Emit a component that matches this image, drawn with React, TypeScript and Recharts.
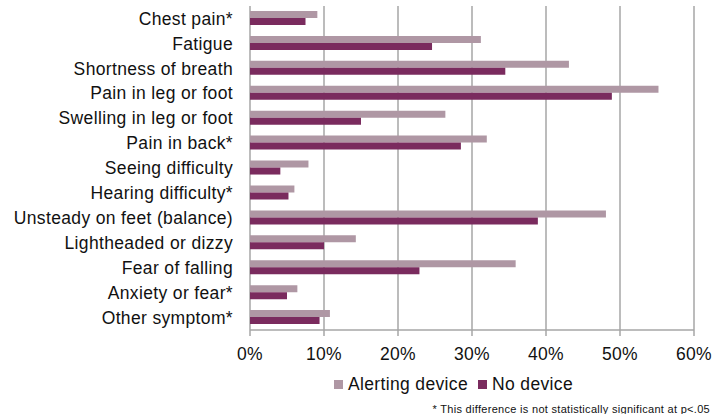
import { Bar, BarChart, CartesianGrid, Legend, XAxis, YAxis } from 'recharts';

const symptoms = [
  'Chest pain*',
  'Fatigue',
  'Shortness of breath',
  'Pain in leg or foot',
  'Swelling in leg or foot',
  'Pain in back*',
  'Seeing difficulty',
  'Hearing difficulty*',
  'Unsteady on feet (balance)',
  'Lightheaded or dizzy',
  'Fear of falling',
  'Anxiety or fear*',
  'Other symptom*',
];
const alertingDevice = [9.1, 31.2, 43.1, 55.2, 26.4, 32.0, 7.9, 6.0, 48.1, 14.3, 35.9, 6.4, 10.8];
const noDevice = [7.5, 24.6, 34.5, 48.9, 15.0, 28.5, 4.1, 5.2, 38.9, 10.0, 22.9, 5.0, 9.4];
const percentTicks = [0, 10, 20, 30, 40, 50, 60];
const seriesNames = ['Alerting device', 'No device'];
const seriesColors = ['#AF97A4', '#7A2B5E'];

const data = symptoms.map((symptom, i) => ({ symptom, alerting: alertingDevice[i], none: noDevice[i] }));
const boundaryTicks = [...symptoms.map((_, i) => i), symptoms.length];

const fontFamily = '"Liberation Sans", Arial, sans-serif';
const textColor = '#111';
const gridColor = '#A6A6A6';
const labelFont = { fontSize: 17.5, fill: textColor, letterSpacing: 0.35 };

const LegendContent = () => (
  <div style={{ display: 'flex', alignItems: 'center', height: 24, fontFamily, fontSize: 17.5, letterSpacing: 0.35, color: textColor }}>
    {seriesNames.map((name, i) => (
      <span key={name} style={{ display: 'flex', alignItems: 'center', marginRight: 10 }}>
        <span style={{ width: 9, height: 9, background: seriesColors[i], marginRight: 5, display: 'inline-block' }} />
        {name}
      </span>
    ))}
  </div>
);

export default function App() {
  return (
    <div style={{ position: 'absolute', left: 0, top: 0, width: 716, height: 414, background: '#fff' }}>
      <BarChart
        width={716}
        height={414}
        data={data}
        layout="vertical"
        margin={{ top: 6, right: 22, bottom: 18, left: 0 }}
        barGap={0}
        style={{ fontFamily }}
      >
        <CartesianGrid horizontal={false} stroke={gridColor} strokeWidth={1.5} />
        <YAxis
          yAxisId="bounds"
          type="number"
          domain={[0, symptoms.length]}
          ticks={boundaryTicks}
          width={0}
          tick={false}
          tickSize={6}
          axisLine={{ stroke: gridColor, strokeWidth: 1.5 }}
          tickLine={{ stroke: gridColor, strokeWidth: 1.5 }}
        />
        <YAxis
          yAxisId="cat"
          type="category"
          dataKey="symptom"
          width={250}
          axisLine={false}
          tickLine={false}
          tickSize={0}
          tickMargin={17}
          interval={0}
          tick={labelFont}
        />
        <XAxis
          type="number"
          domain={[0, 60]}
          ticks={percentTicks}
          tickFormatter={(v: number) => `${v}%`}
          height={42}
          tickSize={6}
          tickMargin={12}
          axisLine={{ stroke: gridColor, strokeWidth: 1.5 }}
          tickLine={{ stroke: gridColor, strokeWidth: 1.5 }}
          tick={labelFont}
        />
        <Legend
          verticalAlign="bottom"
          content={() => <LegendContent />}
          wrapperStyle={{ left: 334, width: 280 }}
        />
        <Bar yAxisId="cat" dataKey="alerting" name={seriesNames[0]} fill={seriesColors[0]} barSize={7} isAnimationActive={false} />
        <Bar yAxisId="cat" dataKey="none" name={seriesNames[1]} fill={seriesColors[1]} barSize={7} isAnimationActive={false} />
      </BarChart>
      <div
        style={{
          position: 'absolute',
          right: 6,
          top: 403,
          fontFamily,
          fontSize: 11,
          letterSpacing: 0.3,
          color: textColor,
          whiteSpace: 'nowrap',
        }}
      >
        * This difference is not statistically significant at p&lt;.05
      </div>
    </div>
  );
}
